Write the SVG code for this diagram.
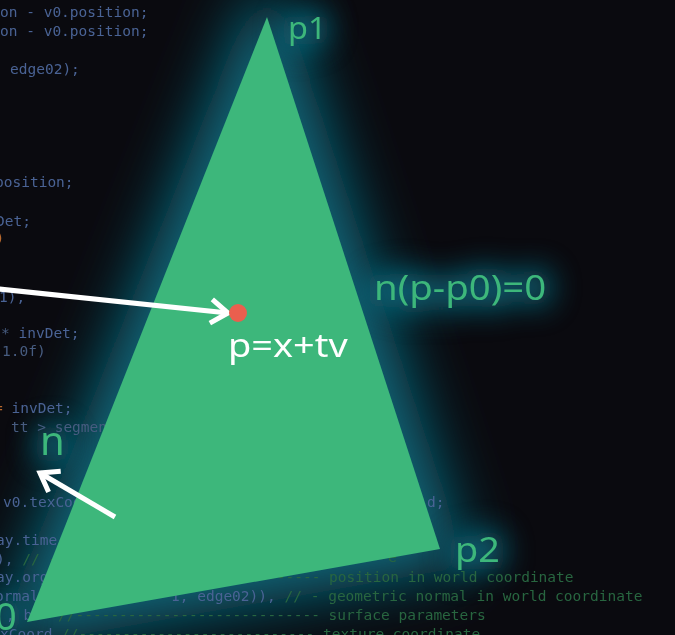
<svg xmlns="http://www.w3.org/2000/svg" width="675" height="635" viewBox="0 0 675 635">
  <defs>
    <style>
      .code{font-family:"DejaVu Sans Mono","Liberation Mono",monospace;font-size:14.5px;fill:#4a6395;white-space:pre}
      .dim{fill:#475c80}
      .cm{fill:#286640}
      .op{fill:#b8692e}
      .lbl{font-family:"Noto Sans","Open Sans",sans-serif;fill:#3db77b}
      .wht{fill:#ffffff}
      .halo{font-family:"Noto Sans","Open Sans",sans-serif;fill:#08748a;stroke:#08748a;stroke-width:14;stroke-linejoin:round}
      .arrow{stroke:#ffffff;stroke-width:5;fill:none;marker-end:url(#chev)}
    </style>
    <filter id="haloTri" x="-50%" y="-50%" width="200%" height="200%">
      <feGaussianBlur stdDeviation="30"/>
    </filter>
    <filter id="haloText" x="-80%" y="-120%" width="260%" height="340%">
      <feGaussianBlur stdDeviation="15"/>
    </filter>
    <marker id="chev" viewBox="0 0 26 30" refX="21" refY="15" markerWidth="26" markerHeight="30" markerUnits="userSpaceOnUse" orient="auto">
      <path d="M4,3 L21,15 L4,27" fill="none" stroke="#ffffff" stroke-width="5"/>
    </marker>
  </defs>

  <!-- backdrop -->
  <rect width="675" height="635" fill="#0a0a0f"/>

  <!-- soft teal halos behind the plane and its labels -->
  <g id="glow">
    <polygon points="27,622 267,17 440,549" fill="#07697d" stroke="#07697d" stroke-width="44" stroke-linejoin="round" filter="url(#haloTri)"/>
    <g filter="url(#haloText)" opacity="0.8">
      <text class="halo" x="288" y="39" font-size="30" transform="translate(288,39) scale(1.08,1) translate(-288,-39)">p1</text>
      <text class="halo" x="455" y="562" font-size="35" transform="translate(455,562) scale(1.08,1) translate(-455,-562)">p2</text>
      <text class="halo" x="374" y="300" font-size="34" transform="translate(374,300) scale(1.13,1) translate(-374,-300)">n(p-p0)=0</text>
      <text class="halo" x="40" y="455" font-size="40">n</text>
      <text class="halo" x="-5" y="630" font-size="38">0</text>
    </g>
  </g>

  <!-- source listing in the background -->
  <g id="listing" class="code" xml:space="preserve">
    <text x="0" y="17">on - v0.position;</text>
    <text x="0" y="36">on - v0.position;</text>
    <text x="10" y="74">edge02);</text>
    <text x="-5" y="187">position;</text>
    <text x="-4" y="226">Det;</text>
    <text x="-4.5" y="243" class="op">)</text>
    <text x="-1" y="302">1),</text>
    <text x="1" y="338"><tspan class="dim">*</tspan> invDet;</text>
    <text x="2" y="356" class="dim">1.0f)</text>
    <text x="-6" y="413"><tspan class="op">=</tspan> invDet;</text>
    <text x="11" y="432" class="dim">tt &gt; segment</text>
    <text x="3" y="507">v0.texCoord</text>
    <text x="427" y="507">d;</text>
    <text x="-4" y="545">ay.time</text>
    <text x="388" y="562" class="cm">e</text>
    <text x="-4" y="564">),<tspan class="cm"> // -</tspan></text>
    <text x="-4" y="582">ay.org</text>
    <text x="268" y="582" class="cm">------ position in world coordinate</text>
    <text x="-5" y="601">ormal</text>
    <text x="171" y="601">1, edge02)), <tspan class="cm">// - geometric normal in world coordinate</tspan></text>
    <text x="6" y="620">, b</text>
    <text x="58" y="620" class="cm">//---------------------------- surface parameters</text>
    <text x="0" y="639">xCoord  <tspan class="cm">//--------------------------- texture coordinate</tspan></text>
  </g>

  <!-- the plane -->
  <g id="plane">
    <polygon points="27,622 267,17 440,549" fill="#3db77b"/>
  </g>

  <!-- ray and normal -->
  <g id="connectors">
    <path class="arrow" d="M-6,288.5 L228,313"/>
    <path class="arrow" d="M115,517 L40,473"/>
  </g>

  <g id="hit-point">
    <circle cx="238" cy="313" r="9" fill="#ea5f4e"/>
    <text class="lbl wht" x="228" y="357" font-size="33" transform="translate(228,357) scale(1.15,1) translate(-228,-357)">p=x+tv</text>
  </g>

  <g id="label-p1"><text class="lbl" x="288" y="39" font-size="30" transform="translate(288,39) scale(1.08,1) translate(-288,-39)">p1</text></g>
  <g id="label-p2"><text class="lbl" x="455" y="562" font-size="35" transform="translate(455,562) scale(1.08,1) translate(-455,-562)">p2</text></g>
  <g id="label-plane"><text class="lbl" x="374" y="300" font-size="34" transform="translate(374,300) scale(1.13,1) translate(-374,-300)">n(p-p0)=0</text></g>
  <g id="label-n"><text class="lbl" x="40" y="455" font-size="40">n</text></g>
  <g id="label-p0"><text class="lbl" x="-5" y="630" font-size="38">0</text></g>
</svg>
